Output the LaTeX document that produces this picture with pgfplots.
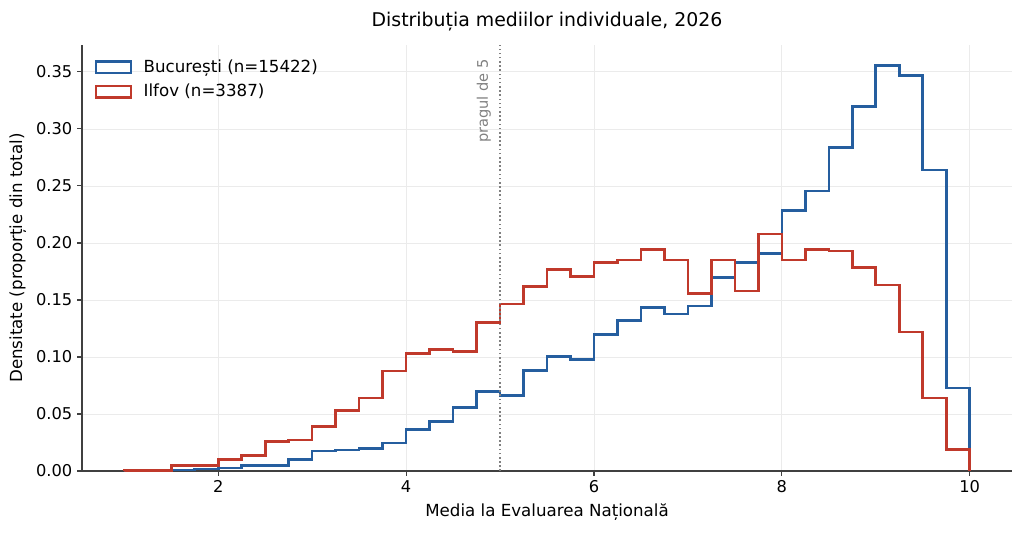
\documentclass[border=0pt]{standalone}
\usepackage{pgfplots}
\pgfplotsset{compat=1.18}
\usepackage{fontspec}
\setmainfont{DejaVu Sans}
\definecolor{bblue}{HTML}{255E9F}
\definecolor{ired}{HTML}{C0392B}
\pgfplotstableread{
x y
1.00 0
1.00 0
1.25 0
1.50 0.0010
1.75 0.0017
2.00 0.0025
2.25 0.0046
2.50 0.0046
2.75 0.0100
3.00 0.0175
3.25 0.0185
3.50 0.0200
3.75 0.0247
4.00 0.0362
4.25 0.0435
4.50 0.0557
4.75 0.0697
5.00 0.0662
5.25 0.0880
5.50 0.1006
5.75 0.0977
6.00 0.1196
6.25 0.1320
6.50 0.1435
6.75 0.1377
7.00 0.1447
7.25 0.1697
7.50 0.1830
7.75 0.1910
8.00 0.2284
8.25 0.2454
8.50 0.2838
8.75 0.3197
9.00 0.3558
9.25 0.3468
9.50 0.2640
9.75 0.0729
10.00 0.0729
10.00 0
}\buc
\pgfplotstableread{
x y
1.00 0
1.00 0.0005
1.25 0.0005
1.50 0.0046
1.75 0.0048
2.00 0.0102
2.25 0.0134
2.50 0.0257
2.75 0.0272
3.00 0.0390
3.25 0.0531
3.50 0.0639
3.75 0.0878
4.00 0.1030
4.25 0.1065
4.50 0.1050
4.75 0.1300
5.00 0.1465
5.25 0.1620
5.50 0.1767
5.75 0.1706
6.00 0.1829
6.25 0.1852
6.50 0.1945
6.75 0.1852
7.00 0.1557
7.25 0.1852
7.50 0.1580
7.75 0.2080
8.00 0.1852
8.25 0.1940
8.50 0.1930
8.75 0.1785
9.00 0.1630
9.25 0.1219
9.50 0.0639
9.75 0.0190
10.00 0.0190
10.00 0
}\ilf
\begin{document}
\begin{tikzpicture}
\begin{axis}[
  scale only axis, width=669.6pt, height=306.72pt,
  xmin=0.55, xmax=10.45, ymin=0, ymax=0.3736,
  axis lines=left,
  axis line style={-, black!75, line width=0.8pt},
  tick align=outside, major tick length=3.5pt,
  tick style={black!75, line width=0.8pt},
  xtick={2,4,6,8,10},
  ytick={0,0.05,0.10,0.15,0.20,0.25,0.30,0.35},
  scaled y ticks=false,
  grid=major,
  major grid style={black!8, line width=0.6pt},
  /pgf/number format/assume math mode=true,
  ticklabel style={font=\fontsize{11.7}{14}\selectfont},
  yticklabel style={/pgf/number format/.cd, fixed, fixed zerofill, precision=2},
  legend style={draw=none, fill=none, at={(axis description cs:0,1)}, anchor=north west,
    xshift=6pt, yshift=-6.5pt, font=\fontsize{12}{14}\selectfont, row sep=3pt,
    column sep=1.5pt, nodes={inner xsep=6.8pt}},
  legend cell align=left,
  legend image code/.code={\draw[#1, fill=white] (0pt,-4.1pt) rectangle (25pt,4.1pt);},
]
\addplot[const plot, bblue, line width=1.9pt] table[x=x,y=y] {\buc};
\addlegendentry{București (n=15422)}
\addplot[const plot, ired, line width=1.9pt] table[x=x,y=y] {\ilf};
\addlegendentry{Ilfov (n=3387)}
\addplot[forget plot, gray, line width=1.1pt, dash pattern=on 1.1pt off 1.9pt] coordinates {(5,0) (5,0.3736)};
\node[rotate=90, anchor=south east, inner sep=0pt, text=gray, font=\fontsize{10.5}{12}\selectfont] at (axis cs:4.905,0.3614) {pragul de 5};
\end{axis}
\node[anchor=base, font=\fontsize{13.6}{16}\selectfont] at ([yshift=13.2pt]current axis.north) {Distribuția mediilor individuale, 2026};
\node[anchor=base, font=\fontsize{12}{14}\selectfont] at ([yshift=-32.4pt]current axis.south) {Media la Evaluarea Națională};
\node[rotate=90, anchor=base, font=\fontsize{12}{14}\selectfont] at ([xshift=-43.2pt]current axis.west) {Densitate (proporție din total)};
\pgfresetboundingbox
\path ([xshift=-59.04pt,yshift=-43.92pt]current axis.south west) rectangle ([xshift=8.64pt,yshift=32.4pt]current axis.north east);
\end{tikzpicture}
\end{document}
